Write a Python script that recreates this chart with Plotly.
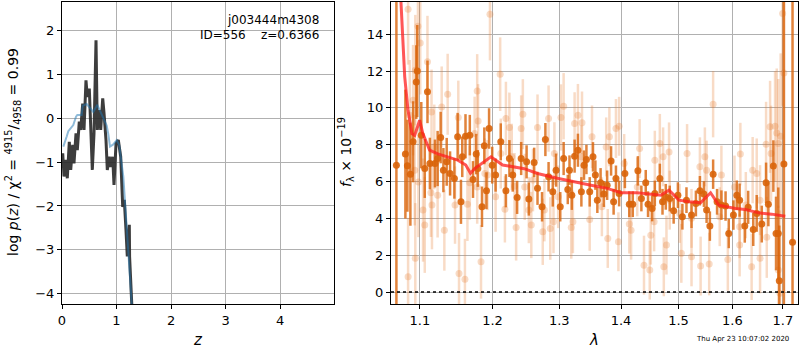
import math
import plotly.graph_objects as go

# ---------------- left panel: redshift PDF ----------------
z_pz = [0.013, 0.037, 0.073, 0.097, 0.134, 0.160, 0.196, 0.220, 0.257, 0.281, 0.317, 0.343,
        0.380, 0.404, 0.440, 0.464, 0.501, 0.527, 0.556, 0.587, 0.624, 0.648, 0.684, 0.710,
        0.747, 0.771, 0.807, 0.831, 0.868, 0.894, 0.930, 0.954, 0.972, 0.991, 1.033, 1.077,
        1.114, 1.143, 1.174, 1.198, 1.235, 1.240, 1.279, 1.310]
logp = [-0.80, -1.33, -0.95, -1.37, -0.54, -1.18, -0.61, -1.03, -0.35, -0.73, -0.08, -0.27,
        0.33, -0.27, 0.86, 0.48, 0.67, -0.27, -1.18, -0.35, 1.77, -0.27, 0.18, -0.27,
        0.45, 0.11, -0.50, -1.18, -0.88, -1.11, -0.88, -1.52, -1.03, -0.58, -0.50, -0.88,
        -2.02, -1.86, -2.55, -3.15, -2.43, -3.15, -4.21, -4.80]

z_prior = [0.024, 0.055, 0.086, 0.116, 0.147, 0.207, 0.257, 0.281, 0.361, 0.380, 0.453, 0.527,
           0.574, 0.648, 0.710, 0.758, 0.820, 0.850, 0.881, 0.941, 1.004, 1.051, 1.095, 1.125,
           1.174, 1.217, 1.279, 1.320]
logp_prior = [-0.65, -0.55, -0.42, -0.30, -0.25, -0.16, 0.03, 0.07, 0.07, 0.28, 0.32, 0.20,
              0.14, 0.30, 0.13, 0.00, -0.17, -0.37, -0.65, -0.60, -0.50, -0.62, -1.03, -1.33,
              -2.24, -3.08, -4.21, -5.00]

# ---------------- right panel: spectrum ----------------
lam_dark = [1.0694, 1.0810, 1.0836, 1.0875, 1.0910, 1.0952, 1.0965, 1.1018, 1.1064, 1.1100,
            1.1132, 1.1200, 1.1236, 1.1277, 1.1314, 1.1359, 1.1405, 1.1464, 1.1509, 1.1555,
            1.1573, 1.1618, 1.1678, 1.1723, 1.1768, 1.1791, 1.1850, 1.1883, 1.1914, 1.1951,
            1.1996, 1.2045, 1.2120, 1.2195, 1.2246, 1.2295, 1.2360, 1.2420, 1.2501, 1.2535,
            1.2615, 1.2666, 1.2735, 1.2786, 1.2835, 1.2900, 1.2951, 1.3016, 1.3069, 1.3134,
            1.3161, 1.3198, 1.3242, 1.3295, 1.3350, 1.3392, 1.3431, 1.3484, 1.3537, 1.3576,
            1.3608, 1.3661, 1.3715, 1.3769, 1.3834, 1.3876, 1.3915, 1.3968, 1.4065, 1.4140,
            1.4198, 1.4286, 1.4346, 1.4421, 1.4461, 1.4532, 1.4579, 1.4667, 1.4714, 1.4772,
            1.4842, 1.4912, 1.4988, 1.5069, 1.5143, 1.5235, 1.5315, 1.5389, 1.5463, 1.5513,
            1.5574, 1.5635, 1.5709, 1.5791, 1.5870, 1.5931, 1.6020, 1.6086, 1.6140, 1.6240,
            1.6306, 1.6406, 1.6474, 1.6574, 1.6660, 1.6706, 1.6806, 1.6860, 1.6906, 1.6926,
            1.7020, 1.7197]
flux_dark = [6.89, 7.49, 6.86, 6.40, 8.16, 11.40, 12.00, 8.52, 6.71, 10.87,
             6.98, 6.98, 7.25, 8.39, 6.62, 7.07, 6.44, 6.17, 8.43, 4.90,
             7.34, 8.46, 8.52, 6.11, 7.49, 6.71, 4.63, 7.94, 5.50, 8.88,
             6.89, 6.35, 8.16, 5.50, 7.25, 6.35, 5.14, 7.25, 7.07, 5.05,
             7.04, 5.63, 4.63, 8.28, 6.26, 5.44, 6.62, 4.63, 7.25, 5.57,
             6.62, 5.26, 7.38, 7.70, 5.44, 6.89, 7.20, 5.44, 7.34, 6.35,
             4.99, 5.93, 5.32, 5.80, 7.12, 4.90, 6.17, 5.35, 6.44, 4.77,
             4.77, 6.58, 5.08, 5.93, 4.77, 4.54, 5.35, 6.17, 4.90, 5.17,
             5.08, 4.41, 5.26, 4.09, 4.99, 4.18, 4.81, 5.50, 5.32, 4.45,
             3.58, 6.40, 4.90, 4.72, 4.67, 3.18, 4.18, 5.26, 4.99, 3.58,
             4.60, 3.40, 4.27, 3.69, 5.93, 4.77, 6.84, 3.18, 3.18, 0.61,
             6.95, 2.70]
err_dark = [14.0, 3.5, 2.5, 2.8, 2.2, 2.0, 2.5, 1.8, 1.6, 1.7,
            1.4, 1.3, 1.5, 1.4, 1.2, 1.3, 1.2, 1.1, 1.3, 1.2,
            1.1, 1.2, 1.1, 1.0, 1.1, 1.0, 1.1, 1.0, 1.0, 1.1,
            1.0, 0.9, 1.0, 0.9, 1.0, 0.9, 0.9, 0.9, 0.9, 0.9,
            0.8, 0.9, 0.8, 0.9, 0.8, 0.8, 0.9, 0.8, 0.9, 0.8,
            0.8, 0.8, 0.9, 0.9, 0.8, 0.8, 0.8, 0.8, 0.8, 0.8,
            0.7, 0.8, 0.7, 0.8, 0.8, 0.7, 0.7, 0.7, 0.8, 0.7,
            0.7, 0.8, 0.7, 0.7, 0.7, 0.7, 0.7, 0.8, 0.7, 0.7,
            0.7, 0.7, 0.7, 0.7, 0.7, 0.7, 0.7, 0.8, 0.7, 0.7,
            0.8, 0.8, 0.7, 0.8, 0.8, 0.8, 0.8, 0.8, 0.9, 0.9,
            0.9, 0.9, 1.0, 1.0, 1.1, 1.2, 1.4, 2.0, 2.5, 3.0,
            14.0, 14.0]

lam_light = [1.0845, 1.0974, 1.1004, 1.0939, 1.1100, 1.0910, 1.1154, 1.1372, 1.1782, 1.1964,
             1.2111, 1.1291, 1.1518, 1.1795, 1.2195, 1.2246, 1.2445, 1.2420, 1.0980, 1.1041,
             1.1064, 1.1146, 1.1160, 1.1236, 1.1327, 1.1473, 1.1528, 1.1610, 1.1645, 1.1678,
             1.1782, 1.1836, 1.1891, 1.2045, 1.2180, 1.2321, 1.2345, 1.0939, 1.0845, 1.0867,
             1.0932, 1.1191, 1.1746, 1.1928, 1.2120, 1.2281, 1.3069, 1.2835, 1.2666, 1.3027,
             1.3295, 1.3242, 1.3360, 1.3521, 1.3915, 1.3968, 1.3806, 1.4316, 1.4667, 1.2925,
             1.3753, 1.2597, 1.2473, 1.2572, 1.2746, 1.2861, 1.2911, 1.3189, 1.3215, 1.3484,
             1.3779, 1.3956, 1.4140, 1.4170, 1.4391, 1.4491, 1.4509, 1.4567, 1.3682, 1.2984,
             1.2771, 1.4053, 1.4275, 1.4579, 1.3350, 1.2535, 1.5635, 1.6154, 1.5154, 1.4830,
             1.4725, 1.5481, 1.5389, 1.5791, 1.6394, 1.6474, 1.6740, 1.6840, 1.6874, 1.6954,
             1.6994, 1.7020, 1.6906, 1.6660, 1.6760, 1.4784, 1.4737, 1.5050, 1.5235, 1.5402,
             1.5561, 1.5913, 1.6140, 1.6374, 1.6540, 1.6674, 1.6906, 1.6940, 1.4842, 1.5019,
             1.5235, 1.6040, 1.6260, 1.6540, 1.6140, 1.5759, 1.5513]
flux_light = [15.35, 14.43, 13.53, 12.05, 12.50, 10.42, 9.78, 10.74, 10.92, 15.08,
              11.83, 10.05, 9.48, 9.29, 9.42, 8.93, 9.66, 8.88, 5.98, 4.45,
              3.64, 5.39, 4.72, 5.26, 3.36, 4.72, 1.01, 0.69, 4.77, 5.93,
              5.71, 1.64, 6.44, 5.17, 4.49, 5.75, 3.51, 1.83, 0.83, 9.60,
              6.62, 7.88, 8.61, 6.35, 7.52, 7.34, 10.09, 9.42, 8.93, 9.48,
              9.60, 9.15, 9.19, 8.43, 8.88, 9.00, 8.43, 7.79, 8.07, 7.52,
              7.88, 6.08, 5.71, 3.64, 3.27, 3.45, 3.81, 3.51, 3.81, 3.94,
              2.91, 2.73, 3.69, 3.36, 1.46, 1.19, 3.09, 3.81, 4.63, 5.17,
              4.45, 6.98, 5.71, 7.16, 7.34, 4.45, 10.20, 7.49, 7.52, 7.61,
              7.34, 7.34, 6.80, 6.35, 6.62, 6.44, 8.97, 9.00, 8.64, 8.46,
              15.12, 11.90, 8.07, 8.03, 7.52, 2.55, 1.37, 2.10, 1.91, 1.41,
              1.52, 1.77, 2.55, 1.37, 1.83, 2.97, 1.19, -0.07, 4.99, 4.27,
              4.00, 5.71, 4.72, 4.99, 3.54, 4.09, 6.62]
err_light = [3.0, 3.0, 2.8, 3.0, 2.5, 3.0, 2.3, 2.2, 2.0, 2.5,
             2.0, 2.2, 2.0, 2.0, 2.0, 1.9, 1.9, 1.8, 3.0, 2.8,
             2.6, 2.4, 2.4, 2.3, 2.2, 2.1, 2.2, 2.2, 2.0, 2.0,
             2.0, 2.0, 1.9, 1.9, 1.8, 1.8, 1.8, 3.0, 3.2, 3.0,
             3.0, 2.3, 2.0, 1.9, 1.9, 1.8, 1.8, 1.8, 1.8, 1.8,
             1.7, 1.7, 1.7, 1.7, 1.6, 1.6, 1.6, 1.6, 1.6, 1.7,
             1.6, 1.7, 1.8, 1.8, 1.8, 1.7, 1.7, 1.7, 1.7, 1.7,
             1.6, 1.6, 1.6, 1.6, 1.6, 1.6, 1.6, 1.6, 1.6, 1.7,
             1.7, 1.6, 1.6, 1.6, 1.7, 1.8, 1.8, 1.7, 1.6, 1.6,
             1.6, 1.6, 1.6, 1.6, 1.8, 1.9, 2.5, 3.0, 3.5, 4.5,
             5.0, 5.0, 3.5, 2.3, 2.6, 1.6, 1.6, 1.6, 1.6, 1.6,
             1.7, 1.7, 1.7, 1.8, 1.9, 2.2, 3.5, 4.5, 1.6, 1.6,
             1.6, 1.7, 1.8, 1.9, 1.7, 1.6, 1.6]

lam_model = [1.0720, 1.0754, 1.0801, 1.0843, 1.0895, 1.0931, 1.0996, 1.1039, 1.1128, 1.1239,
             1.1511, 1.1622, 1.1687, 1.1747, 1.1978, 1.2147, 1.2466, 1.2665, 1.2971, 1.3505,
             1.3770, 1.3997, 1.4273, 1.4683, 1.4829, 1.5007, 1.5188, 1.5401, 1.5587, 1.5742,
             1.6059, 1.6252, 1.6512, 1.6771, 1.7048]
flux_model = [18.5, 15.75, 11.7, 9.9, 8.6, 8.5, 9.33, 8.6, 7.7, 7.5,
              7.16, 6.9, 6.45, 6.7, 7.34, 6.9, 6.7, 6.44, 6.18, 5.8,
              5.63, 5.39, 5.39, 5.26, 5.53, 4.99, 4.9, 4.85, 5.39, 4.72,
              4.54, 4.48, 4.3, 4.23, 4.12]

lam_ticks = [1.1, 1.2, 1.3, 1.4, 1.5, 1.6, 1.7]
lam_range = [1.0625, 1.731]

name_text = "j003444m4308"
id_text = "ID=556    z=0.6366"
stamp_text = "Thu Apr 23 10:07:02 2020"

FONT = "DejaVu Sans"
W, H = 800, 350
ML, MR, MT, MB = 62, 2, 2, 46
PW, PH = W - ML - MR, H - MT - MB


def px(xp):
    return (xp - ML) / PW


def py(yp):
    return 1 - (yp - MT) / PH


fig = go.Figure()

# left panel
fig.add_trace(go.Scatter(x=z_pz, y=logp, mode="lines", xaxis="x", yaxis="y",
                         line=dict(color="rgba(40,40,40,0.9)", width=3), showlegend=False))
fig.add_trace(go.Scatter(x=z_prior, y=logp_prior, mode="lines", xaxis="x", yaxis="y",
                         line=dict(color="rgba(31,119,180,0.5)", width=2), showlegend=False))

# right panel
fig.add_trace(go.Scatter(x=lam_light, y=flux_light, mode="markers", xaxis="x2", yaxis="y2",
                         marker=dict(color="rgba(230,126,50,0.28)", size=7),
                         error_y=dict(type="data", array=err_light, visible=True,
                                      color="rgba(230,126,50,0.28)", thickness=2.5, width=0),
                         showlegend=False))
fig.add_trace(go.Scatter(x=lam_dark, y=flux_dark, mode="markers", xaxis="x2", yaxis="y2",
                         marker=dict(color="rgba(217,100,10,0.9)", size=7),
                         error_y=dict(type="data", array=err_dark, visible=True,
                                      color="rgba(217,100,10,0.8)", thickness=2.5, width=0),
                         showlegend=False))
fig.add_trace(go.Scatter(x=lam_model, y=flux_model, mode="lines", xaxis="x2", yaxis="y2",
                         line=dict(color="rgba(255,30,30,0.75)", width=3), showlegend=False))
fig.add_trace(go.Scatter(x=lam_range, y=[0, 0], mode="lines", xaxis="x2", yaxis="y2",
                         line=dict(color="black", width=1.5, dash="dot"), showlegend=False))

axis_common = dict(showline=True, linecolor="black", linewidth=1, mirror=True,
                   ticks="outside", ticklen=4, tickcolor="black", automargin=False,
                   showgrid=True, gridcolor="#b0b0b0", gridwidth=1, zeroline=False,
                   tickfont=dict(family=FONT, size=13, color="black"))

fig.update_layout(
    width=W, height=H,
    margin=dict(l=ML, r=MR, t=MT, b=MB, autoexpand=False),
    plot_bgcolor="white", paper_bgcolor="white",
    font=dict(family=FONT, color="black"),
    xaxis=dict(domain=[0, px(334)], range=[0, 4.99], tickvals=[0, 1, 2, 3, 4],
               anchor="y", **axis_common),
    yaxis=dict(domain=[0, 1], range=[-4.23, 2.64], tickvals=[-4, -3, -2, -1, 0, 1, 2],
               anchor="x", **axis_common),
    xaxis2=dict(domain=[px(391), 1], type="log",
                range=[math.log10(lam_range[0]), math.log10(lam_range[1])],
                tickvals=lam_ticks, ticktext=[f"{v:.1f}" for v in lam_ticks],
                anchor="y2", **axis_common),
    yaxis2=dict(domain=[0, 1], range=[-0.65, 15.75], tickvals=[0, 2, 4, 6, 8, 10, 12, 14],
                anchor="x2", **axis_common),
)

fig.add_annotation(text=name_text, xref="paper", yref="paper", x=px(321), y=py(20),
                   xanchor="right", yanchor="middle", showarrow=False,
                   font=dict(family=FONT, size=12, color="black"))
fig.add_annotation(text=id_text, xref="paper", yref="paper", x=px(321), y=py(35),
                   xanchor="right", yanchor="middle", showarrow=False,
                   font=dict(family=FONT, size=12, color="black"))
# axis titles
fig.add_annotation(text="log <i>p</i>(<i>z</i>) / χ<sup>2</sup> = <sup>4915</sup>/<sub>4958</sub> = 0.99",
                   xref="paper", yref="paper", x=px(13), y=py(152),
                   textangle=-90, showarrow=False, xanchor="center", yanchor="middle",
                   font=dict(family=FONT, size=14, color="black"))
fig.add_annotation(text="<i>f</i><sub>λ</sub> × 10<sup>−19</sup>",
                   xref="paper", yref="paper", x=px(346), y=py(152),
                   textangle=-90, showarrow=False, xanchor="center", yanchor="middle",
                   font=dict(family=FONT, size=14, color="black"))
fig.add_annotation(text="<i>z</i>", xref="paper", yref="paper", x=px(198), y=py(340),
                   showarrow=False, xanchor="center", yanchor="middle",
                   font=dict(family=FONT, size=15, color="black"))
fig.add_annotation(text="<i>λ</i>", xref="paper", yref="paper", x=px(594), y=py(340),
                   showarrow=False, xanchor="center", yanchor="middle",
                   font=dict(family=FONT, size=15, color="black"))
fig.add_annotation(text=stamp_text, xref="paper", yref="paper", x=px(742), y=py(339),
                   showarrow=False, xanchor="center", yanchor="middle",
                   font=dict(family=FONT, size=7, color="black"))

fig.write_html("out.html", config={"displayModeBar": False},
               post_script="document.body.style.margin='0px';document.body.style.padding='0px';")
